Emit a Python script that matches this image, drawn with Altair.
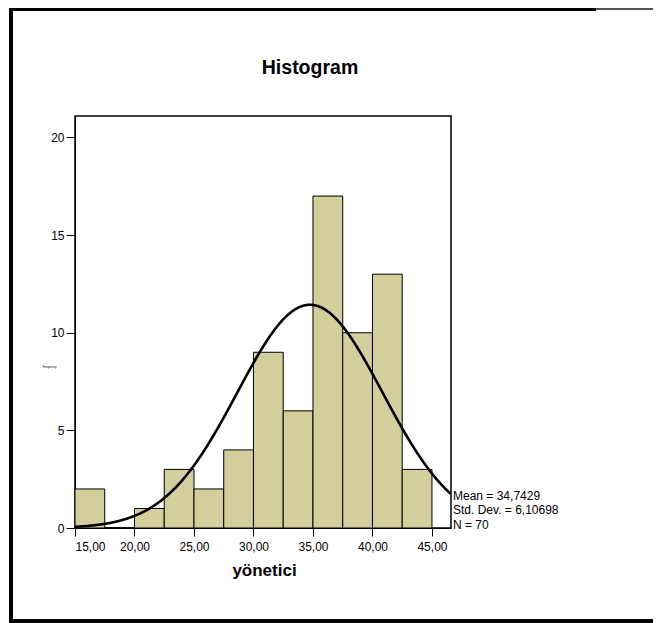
import altair as alt
import pandas as pd

# ---- data ----
bin_start = [15.0, 17.5, 20.0, 22.5, 25.0, 27.5, 30.0, 32.5, 35.0, 37.5, 40.0, 42.5]
bin_end = [17.5, 20.0, 22.5, 25.0, 27.5, 30.0, 32.5, 35.0, 37.5, 40.0, 42.5, 45.0]
counts = [2, 0, 1, 3, 2, 4, 9, 6, 17, 10, 13, 3]
x_ticks = [15, 20, 25, 30, 35, 40, 45]
y_ticks = [0, 5, 10, 15, 20]
MEAN = 34.7429
SD = 6.10698
N = 70
BIN_W = 2.5
stats_lines = ["Mean = 34,7429", "Std. Dev. = 6,10698", "N = 70"]
title_text = ["Histogram"]

X_DOMAIN = [15, 46.6]
Y_DOMAIN = [0, 21.1]
W, H = 376, 412
FONT = "Liberation Sans"

df = pd.DataFrame({"start": bin_start, "end": bin_end, "count": counts})

xs = alt.Scale(domain=X_DOMAIN, nice=False, zero=False)
ys = alt.Scale(domain=Y_DOMAIN, nice=False)

bars = alt.Chart(df).mark_rect(color="#d3cf9c", stroke="black", strokeWidth=1).encode(
    x=alt.X(
        "start:Q",
        scale=xs,
        axis=alt.Axis(
            values=x_ticks,
            labelExpr="replace(format(datum.value, '.2f'), '.', ',')",
            title="yönetici",
            tickSize=8,
            labelPadding=5,
            labelFontSize=12,
            titleFontSize=17,
            titleFontWeight="bold",
            titleX=W / 2 + 1,
            titleY=47,
            titleBaseline="alphabetic",
            titleAlign="center",
            labelOverlap=False,
            domain=True,
        ),
    ),
    x2="end:Q",
    y=alt.Y(
        "count:Q",
        scale=ys,
        axis=alt.Axis(
            values=y_ticks,
            title="Frequency",
            tickSize=9,
            labelPadding=2,
            labelFontSize=12,
            titleFontSize=3,
            titleFontWeight="normal",
            titleAngle=0,
            titleX=-26,
            titleY=250,
            titleAlign="center",
            titleBaseline="middle",
            labelOverlap=False,
        ),
    ),
    y2=alt.Y2(datum=0),
)

curve = (
    alt.Chart(alt.sequence(15, 46.61, 0.05, as_="v"))
    .transform_calculate(
        dens=f"{N * BIN_W}/({SD}*sqrt(2*PI))*exp(-pow(datum.v-{MEAN},2)/(2*{SD}*{SD}))"
    )
    .mark_line(color="black", strokeWidth=2.6)
    .encode(x=alt.X("v:Q", scale=xs), y=alt.Y("dens:Q", scale=ys))
)

stats = (
    alt.Chart(alt.InlineData(values=[{"t": "\n".join(stats_lines)}]))
    .mark_text(
        align="left",
        baseline="alphabetic",
        lineBreak="\n",
        lineHeight=14.5,
        fontSize=12,
        font=FONT,
        color="black",
    )
    .encode(text="t:N", x=alt.value(W + 2), y=alt.value(383.5))
)

title = (
    alt.Chart(alt.InlineData(values=[{"t": title_text[0]}]))
    .mark_text(
        align="center",
        baseline="alphabetic",
        fontSize=19.5,
        fontWeight="bold",
        font=FONT,
        color="black",
    )
    .encode(text="t:N", x=alt.value(235), y=alt.value(-42))
)

one = alt.InlineData(values=[{"k": 1}])
frame_left = alt.Chart(one).mark_rule(color="black", strokeWidth=4).encode(
    x=alt.value(-64), y=alt.value(-108), y2=alt.value(507)
)
frame_top = alt.Chart(one).mark_rule(color="black", strokeWidth=3).encode(
    x=alt.value(-66), x2=alt.value(521), y=alt.value(-106.5)
)
frame_top_gray = alt.Chart(one).mark_rule(color="#555555", strokeWidth=2).encode(
    x=alt.value(521), x2=alt.value(578), y=alt.value(-107)
)
frame_bottom = alt.Chart(one).mark_rule(color="black", strokeWidth=4).encode(
    x=alt.value(-66), x2=alt.value(578), y=alt.value(505)
)

chart = (
    alt.layer(bars, curve, stats, title, frame_left, frame_top, frame_top_gray, frame_bottom)
    .properties(
        width=W,
        height=H,
        autosize=alt.AutoSizeParams(type="none"),
        padding={"left": 67, "top": 108, "right": 202, "bottom": 95},
        background="white",
    )
    .configure_view(stroke="black", strokeWidth=1.5)
    .configure_axis(
        labelFont=FONT,
        titleFont=FONT,
        labelColor="black",
        titleColor="black",
        tickColor="black",
        domainColor="black",
        grid=False,
    )
)

chart.save("out.html", embed_options={"renderer": "svg", "actions": False})
